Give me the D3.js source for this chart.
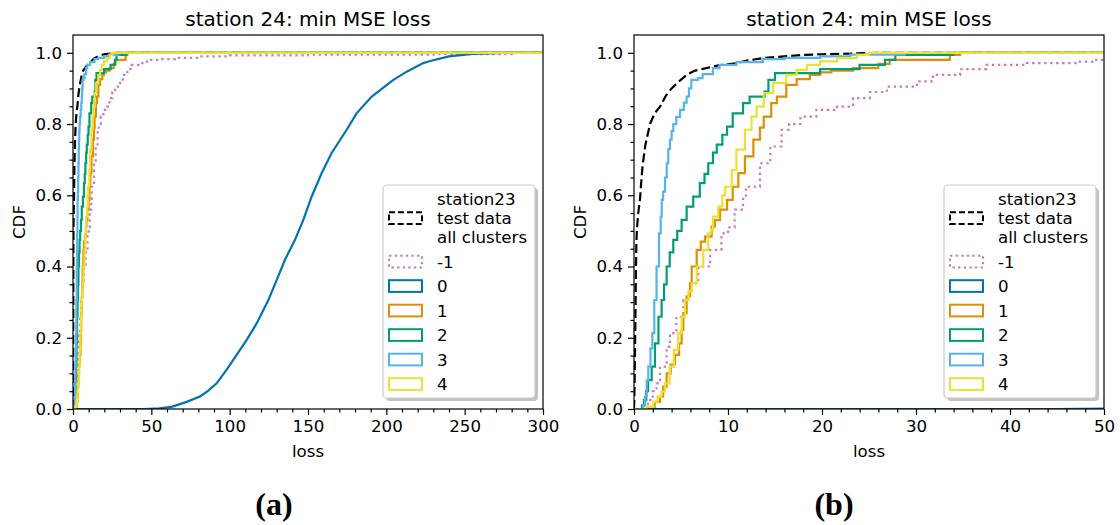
<!DOCTYPE html>
<html><head><meta charset="utf-8">
<script src="https://cdn.jsdelivr.net/npm/d3@7"></script>
<style>body{margin:0;background:#fff}svg{display:block}</style>
</head><body>
<svg id="c" width="1120" height="525"></svg>
<script>
// ---- data (loss, CDF) ----
const station23 = [[0,0],[0.05,0.05],[0.1,0.15],[0.15,0.25],[0.2,0.38],[0.25,0.46],[0.3,0.5],[0.45,0.55],[0.64,0.59],[0.75,0.63],[0.9,0.68],[1.2,0.74],[1.7,0.8],[2.2,0.83],[2.8,0.85],[3.4,0.88],[4.0,0.9],[4.8,0.92],[5.6,0.938],[6.5,0.95],[7.7,0.957],[9,0.965],[10.9,0.971],[12,0.978],[13.7,0.985],[16,0.99],[18,0.994],[20,0.996],[23.3,0.998],[26,1.0],[300,1.0]];
const clusterM1 = [[0,0],[1.0,0],[1.05,0.01],[1.5,0.025],[2.0,0.05],[2.4,0.072],[2.77,0.119],[3.47,0.175],[3.83,0.213],[4.5,0.259],[5.25,0.306],[5.96,0.353],[6.84,0.4],[8.1,0.447],[9.3,0.493],[10.0,0.51],[10.7,0.56],[11.6,0.59],[11.9,0.624],[13.4,0.69],[14.5,0.737],[15.7,0.784],[16.5,0.8],[17.7,0.821],[19.4,0.84],[21.6,0.849],[23.3,0.873],[25.1,0.89],[26.9,0.905],[30.1,0.92],[31.8,0.938],[34.7,0.954],[37.5,0.966],[41.8,0.971],[47.1,0.975],[48.8,0.98],[55,0.982],[65,0.986],[80,0.99],[100,0.993],[150,0.995],[230,0.996],[280,1.0],[300,1.0]];
const cluster0 = [[0,0],[45,0],[55,0.002],[63,0.006],[72.6,0.02],[81,0.035],[86,0.05],[91.7,0.072],[98,0.11],[106.6,0.166],[110.9,0.194],[117.3,0.241],[124.7,0.306],[130,0.362],[135.3,0.419],[141.7,0.475],[147,0.531],[152.3,0.596],[158.7,0.662],[165,0.718],[174.7,0.784],[181,0.83],[190.7,0.877],[204.5,0.924],[213,0.947],[223.6,0.971],[228,0.977],[240,0.99],[255,0.997],[275,1.0],[300,1.0]];
const cluster1 = [[0,0],[1.35,0],[1.4,0.006],[2.2,0.02],[2.77,0.035],[3.1,0.063],[3.47,0.1],[3.9,0.125],[4.36,0.152],[4.8,0.184],[5.07,0.222],[5.25,0.269],[5.6,0.316],[5.96,0.353],[6.14,0.4],[6.67,0.447],[7.1,0.47],[7.55,0.484],[8.26,0.512],[8.6,0.53],[9.15,0.56],[9.9,0.587],[10.5,0.624],[11.1,0.662],[11.8,0.709],[12.7,0.756],[13.4,0.79],[13.8,0.821],[14.6,0.859],[15.2,0.877],[16.2,0.91],[17.3,0.926],[18.7,0.938],[19.8,0.945],[21,0.95],[23.3,0.957],[26,0.969],[27.2,0.98],[33.6,0.994],[34.7,1.0],[300,1.0]];
const cluster2 = [[0,0],[0.8,0],[0.85,0.01],[1.06,0.025],[1.3,0.05],[1.5,0.081],[1.88,0.119],[2.23,0.184],[2.6,0.259],[2.94,0.306],[3.2,0.35],[3.47,0.4],[3.8,0.44],[4.18,0.475],[4.6,0.5],[5.07,0.531],[5.6,0.568],[6.3,0.596],[7.0,0.634],[7.5,0.66],[7.9,0.69],[8.4,0.72],[8.8,0.742],[9.4,0.77],[9.9,0.793],[10.5,0.83],[11.6,0.859],[12.3,0.877],[13.9,0.891],[14.3,0.924],[15,0.943],[19.8,0.954],[24,0.966],[26.7,0.98],[27.8,0.994],[34,1.0],[300,1.0]];
const cluster3 = [[0,0],[0.93,0],[0.95,0.01],[1.17,0.035],[1.35,0.08],[1.52,0.119],[1.75,0.17],[1.95,0.213],[2.16,0.306],[2.4,0.4],[2.66,0.493],[2.84,0.54],[2.95,0.587],[3.1,0.61],[3.3,0.65],[3.48,0.69],[3.65,0.73],[3.83,0.756],[4.0,0.78],[4.18,0.8],[4.5,0.82],[4.9,0.84],[5.3,0.86],[5.6,0.877],[5.85,0.9],[6.1,0.924],[6.8,0.929],[7.3,0.94],[8.4,0.957],[9.1,0.966],[10.9,0.974],[13.7,0.982],[16,0.986],[19.8,0.99],[23,0.995],[28.8,1.0],[300,1.0]];
const cluster4 = [[0,0],[1.35,0],[1.4,0.006],[2.05,0.02],[2.5,0.035],[2.94,0.049],[3.3,0.072],[3.8,0.119],[4.25,0.166],[4.7,0.213],[5.07,0.259],[5.43,0.306],[5.8,0.33],[6.14,0.353],[6.67,0.4],[7.37,0.447],[7.9,0.493],[8.16,0.503],[8.4,0.54],[8.97,0.568],[9.4,0.6],[9.7,0.624],[10.4,0.671],[10.9,0.728],[11.8,0.784],[12.5,0.821],[13.05,0.849],[13.8,0.887],[14.8,0.915],[16.2,0.938],[17.3,0.952],[18.4,0.966],[19.8,0.976],[21.6,0.985],[23.7,0.994],[25,1.0],[300,1.0]];

const legendLabels = ["station23\ntest data\nall clusters","-1","0","1","2","3","4"];
const seriesData = [station23, clusterM1, cluster0, cluster1, cluster2, cluster3, cluster4];
const seriesColors = ["#000000","#cc78bc","#0173b2","#de8f05","#029e73","#56b4e9","#ece133"];
const seriesDash = ["9,4","2.4,3.6",null,null,null,null,null];
const seriesStep = [false,true,false,true,true,true,true];
const yTicks = [0,0.2,0.4,0.6,0.8,1.0];
const panelTitles = ["station 24: min MSE loss","station 24: min MSE loss"];
const panelCaptions = ["(a)","(b)"];
const panelXMax = [300,50];
const panelMajor = [50,10];
const panelMinor = [10,2];

// ---- drawing ----
const svg = d3.select("#c");
const FONT = "DejaVu Sans, sans-serif";
const plotTop = 35, plotBottom = 409;
const panels = [{x0:73,x1:543,cap:274},{x0:634,x1:1104,cap:834}];
const y = d3.scaleLinear().domain([0,1.05]).range([plotBottom, plotTop]);

panels.forEach((p, pi) => {
  const x = d3.scaleLinear().domain([0, panelXMax[pi]]).range([p.x0, p.x1]);
  const g = svg.append("g");
  const clipId = "clip"+pi;
  svg.append("defs").append("clipPath").attr("id", clipId)
    .append("rect").attr("x", p.x0).attr("y", plotTop).attr("width", p.x1-p.x0).attr("height", plotBottom-plotTop);

  const plot = g.append("g").attr("clip-path", `url(#${clipId})`);
  seriesData.forEach((d, i) => {
    const line = d3.line().x(v => x(v[0])).y(v => y(v[1]))
      .curve(seriesStep[i] ? d3.curveStepAfter : d3.curveLinear);
    plot.append("path").attr("d", line(d)).attr("fill","none")
      .attr("stroke", seriesColors[i]).attr("stroke-width", 2.2)
      .attr("stroke-dasharray", seriesDash[i]).attr("stroke-linejoin","miter");
  });

  // axes
  const majorX = d3.range(0, panelXMax[pi]+1e-9, panelMajor[pi]);
  const minorX = d3.range(0, panelXMax[pi]+1e-9, panelMinor[pi]).filter(v => !majorX.includes(v));
  const ax = g.append("g").attr("transform", `translate(0,${plotBottom})`)
    .call(d3.axisBottom(x).tickValues(majorX).tickSize(6).tickPadding(5).tickFormat(d3.format("d")));
  const axm = g.append("g").attr("transform", `translate(0,${plotBottom})`)
    .call(d3.axisBottom(x).tickValues(minorX).tickSize(3.5).tickFormat(""));
  const minorY = d3.range(0, 1.0001, 0.05).filter(v => !yTicks.some(t => Math.abs(t-v)<1e-6));
  const ay = g.append("g").attr("transform", `translate(${p.x0},0)`)
    .call(d3.axisLeft(y).tickValues(yTicks).tickSize(6).tickPadding(5).tickFormat(d3.format(".1f")));
  const aym = g.append("g").attr("transform", `translate(${p.x0},0)`)
    .call(d3.axisLeft(y).tickValues(minorY).tickSize(3.5).tickFormat(""));
  [ax, axm, ay, aym].forEach(a => {
    a.select(".domain").remove();
    a.selectAll("line").attr("stroke","#000").attr("stroke-width",1.2);
    a.selectAll("text").attr("font-family", FONT).attr("font-size", 16.67).attr("fill","#000");
  });

  // frame
  g.append("rect").attr("x", p.x0).attr("y", plotTop).attr("width", p.x1-p.x0).attr("height", plotBottom-plotTop)
    .attr("fill","none").attr("stroke","#000").attr("stroke-width",1.2);

  // labels
  g.append("text").attr("x", (p.x0+p.x1)/2).attr("y", 26).attr("text-anchor","middle")
    .attr("font-family", FONT).attr("font-size", 20).text(panelTitles[pi]);
  g.append("text").attr("x", (p.x0+p.x1)/2).attr("y", 457).attr("text-anchor","middle")
    .attr("font-family", FONT).attr("font-size", 16.67).text("loss");
  g.append("text").attr("transform", `translate(${p.x0-48},${(plotTop+plotBottom)/2}) rotate(-90)`)
    .attr("text-anchor","middle").attr("font-family", FONT).attr("font-size", 16.67).text("CDF");
  g.append("text").attr("x", p.cap).attr("y", 515).attr("text-anchor","middle")
    .attr("font-family", "Liberation Serif, serif").attr("font-weight","bold").attr("font-size", 32).text(panelCaptions[pi]);

  // legend
  const lx = p.x1 - 160, ly = 185, lw = 152, lh = 213;
  const lg = g.append("g");
  lg.append("rect").attr("x", lx+3).attr("y", ly+3).attr("width", lw).attr("height", lh).attr("rx",4)
    .attr("fill","#9a9a9a").attr("opacity",0.6);
  lg.append("rect").attr("x", lx).attr("y", ly).attr("width", lw).attr("height", lh).attr("rx",4)
    .attr("fill","#fff").attr("stroke","#cccccc").attr("stroke-width",1.2);
  const rowY = [218, 261.5, 286, 310.5, 335, 359.5, 384];
  legendLabels.forEach((lab, i) => {
    const cy = rowY[i];
    lg.append("rect").attr("x", lx+6).attr("y", cy-5.8).attr("width", 33).attr("height", 11.7)
      .attr("fill","none").attr("stroke", seriesColors[i]).attr("stroke-width", 2)
      .attr("stroke-dasharray", seriesDash[i] ? (i===0 ? "6,3" : "2.4,3.2") : null);
    const lines = lab.split("\n");
    const t = lg.append("text").attr("font-family", FONT).attr("font-size", 16.67).attr("fill","#000");
    lines.forEach((s, k) => {
      t.append("tspan").attr("x", lx+54).attr("y", cy + (k - (lines.length-1)/2)*19 + 6).text(s);
    });
  });
});
</script>
</body></html>
